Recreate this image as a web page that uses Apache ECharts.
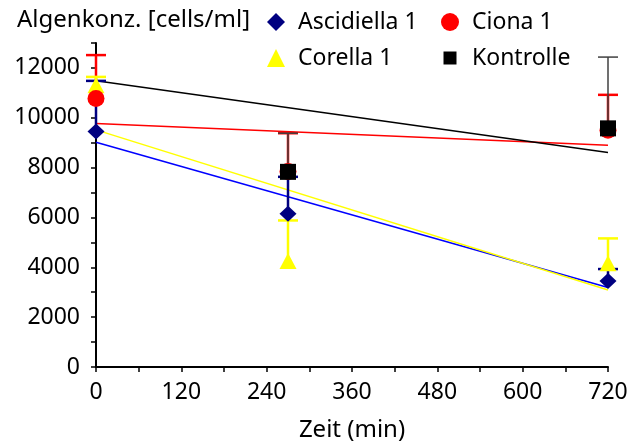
<!DOCTYPE html>
<html>
<head>
<meta charset="utf-8">
<script src="https://cdn.jsdelivr.net/npm/echarts@6/dist/echarts.min.js"></script>
<style>
html, body { margin: 0; padding: 0; background: #fff; }
#chart { width: 634px; height: 447px; }
</style>
</head>
<body>
<div id="chart"></div>
<script>
// Zeitpunkte (min)
var times = [0, 270, 720];

// Mittelwerte + obere Fehlerbalken (cells/ml)
var ascidiella = [9450, 6150, 3450];
var ascidiellaErr = [2030, 1480, 480];
var ciona = [10770, 7840, 9500];
var cionaErr = [1745, 1540, 1420];
var corella = [11300, 4250, 4160];
var corellaErr = [340, 1630, 1000];
var kontrolle = [13100, 7830, 9575];
var kontrolleErr = [800, 1550, 2860];

var xTicks = [0, 120, 240, 360, 480, 600, 720];
var yTicks = [0, 2000, 4000, 6000, 8000, 10000, 12000];

var FONT = 'Noto Sans';

function pairs(vals) {
    var out = [];
    for (var i = 0; i < times.length; i++) {
        out.push([times[i], vals[i]]);
    }
    return out;
}

//lineare Trendlinie (kleinste Quadrate)
function trend(vals) {
    var n = times.length, sx = 0, sy = 0, sxx = 0, sxy = 0;
    for (var i = 0; i < n; i++) {
        sx += times[i]; sy += vals[i];
        sxx += times[i] * times[i]; sxy += times[i] * vals[i];
    }
    var b = (n * sxy - sx * sy) / (n * sxx - sx * sx);
    var a = (sy - b * sx) / n;
    var x0 = xTicks[0], x1 = xTicks[xTicks.length - 1];
    return [[x0, a + b * x0], [x1, a + b * x1]];
}

//Fehlerbalken (nur nach oben)
function errBars(vals, errs, color, width, z) {
    var data = [];
    for (var i = 0; i < times.length; i++) {
        data.push([times[i], vals[i], vals[i] + errs[i]]);
    }
    return {
        type: 'custom',
        z: z,
        clip: false,
        silent: true,
        data: data,
        encode: { x: 0, y: [1, 2] },
        renderItem: function (params, api) {
            var lo = api.coord([api.value(0), api.value(1)]);
            var hi = api.coord([api.value(0), api.value(2)]);
            // Punkt ausserhalb der Achse -> nicht zeichnen
            if (lo[1] < params.coordSys.y) return;
            var w = 10;
            return {
                type: 'group',
                children: [
                    { type: 'line', shape: { x1: lo[0], y1: lo[1], x2: hi[0], y2: hi[1] }, style: { stroke: color, lineWidth: width } },
                    { type: 'line', shape: { x1: hi[0] - w, y1: hi[1], x2: hi[0] + w, y2: hi[1] }, style: { stroke: color, lineWidth: width } }
                ]
            };
        }
    };
}

function trendLine(vals, color) {
    return {
        type: 'line',
        z: 2,
        silent: true,
        symbol: 'none',
        data: trend(vals),
        lineStyle: { color: color, width: 1.5 }
    };
}

var myChart = echarts.init(document.getElementById('chart'));
var legendText = { fontFamily: FONT, fontSize: 23, lineHeight: 24, color: '#000', padding: [0, 0, 0, 8] };

myChart.setOption({
    animation: false,
    title: {
        text: 'Algenkonz. [cells/ml]',
        left: 17,
        top: 8,
        padding: 0,
        textStyle: { fontFamily: FONT, fontSize: 24, fontWeight: 'normal', color: '#000' }
    },
    legend: [
        {
            orient: 'vertical', left: 267, top: 10, itemGap: 12, padding: 0,
            itemWidth: 18, itemHeight: 18,
            data: ['Ascidiella 1', 'Corella 1'],
            textStyle: legendText
        },
        {
            orient: 'vertical', left: 441, top: 10, itemGap: 12, padding: 0,
            itemWidth: 18, itemHeight: 18,
            data: [
                { name: 'Ciona 1' },
                { name: 'Kontrolle', icon: 'path://M0,0M18,18M2.5,2.5h13v13h-13z' }
            ],
            textStyle: legendText
        }
    ],
    grid: { left: 96, right: 26, top: 43, bottom: 78 },
    xAxis: {
        type: 'value',
        min: 0, max: 720, interval: 60,
        name: 'Zeit (min)',
        nameLocation: 'middle',
        nameGap: 51,
        nameTextStyle: { fontFamily: FONT, fontSize: 24, color: '#000' },
        axisLine: { lineStyle: { color: '#000', width: 2 } },
        axisTick: { length: 5, lineStyle: { color: '#000', width: 1.5 } },
        axisLabel: {
            fontFamily: FONT, fontSize: 23, color: '#000', margin: 14,
            formatter: function (v) { return xTicks.indexOf(v) >= 0 ? String(v) : ''; }
        },
        splitLine: { show: false }
    },
    yAxis: {
        type: 'value',
        min: 0, max: 13000, interval: 1000,
        axisLine: { show: true, lineStyle: { color: '#000', width: 2 } },
        axisTick: { show: true, length: 5, lineStyle: { color: '#000', width: 1.5 } },
        axisLabel: {
            fontFamily: FONT, fontSize: 23, color: '#000', margin: 16,
            formatter: function (v) { return yTicks.indexOf(v) >= 0 ? String(v) : ''; }
        },
        splitLine: { show: false }
    },
    series: [
        trendLine(ascidiella, '#0000ff'),
        trendLine(ciona, '#ff0000'),
        trendLine(corella, '#ffff00'),
        trendLine(kontrolle, '#000000'),
        errBars(ciona, cionaErr, '#ff0000', 2.5, 3),
        errBars(ascidiella, ascidiellaErr, '#000080', 2.5, 4),
        errBars(corella, corellaErr, '#ffff00', 2.5, 4),
        errBars(kontrolle, kontrolleErr, '#404040', 1.5, 5),
        {
            name: 'Ascidiella 1', type: 'scatter', z: 6, clip: true,
            symbol: 'diamond', symbolSize: [17, 16],
            itemStyle: { color: '#000080', opacity: 1 },
            data: pairs(ascidiella)
        },
        {
            name: 'Corella 1', type: 'scatter', z: 7, clip: true,
            symbol: 'triangle', symbolSize: [17, 16],
            itemStyle: { color: '#ffff00', opacity: 1 },
            data: pairs(corella)
        },
        {
            name: 'Ciona 1', type: 'scatter', z: 8, clip: true,
            symbol: 'circle', symbolSize: 17,
            itemStyle: { color: '#ff0000', opacity: 1 },
            data: pairs(ciona)
        },
        {
            name: 'Kontrolle', type: 'scatter', z: 9, clip: true,
            symbol: 'rect', symbolSize: [16, 16],
            itemStyle: { color: '#000000', opacity: 1 },
            data: pairs(kontrolle)
        }
    ]
});
</script>
</body>
</html>
